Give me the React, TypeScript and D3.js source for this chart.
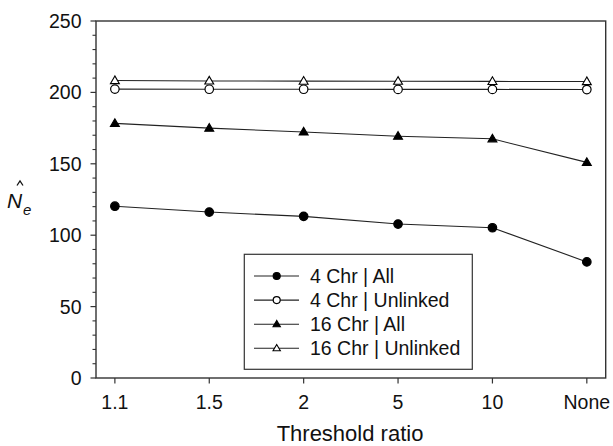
import React from "react";
import * as d3 from "d3";

const categories = ["1.1", "1.5", "2", "5", "10", "None"];
const chr4All = [120.3, 116.2, 113.2, 107.8, 105.2, 81.3];
const chr4Unlinked = [202.3, 202.2, 202.2, 202.1, 202.1, 202.0];
const chr16All = [178.3, 175.0, 172.3, 169.3, 167.5, 151.0];
const chr16Unlinked = [208.3, 208.0, 207.9, 207.8, 207.7, 207.6];
const yMajorTicks = [0, 50, 100, 150, 200, 250];
const seriesNames = ["4 Chr | All", "4 Chr | Unlinked", "16 Chr | All", "16 Chr | Unlinked"];

const W = 613, H = 446;
const L = 96, R = 605.7, T = 21, B = 378;
const font = "Liberation Sans, Arial, sans-serif";

type Marker = "circle" | "triangle";

function MarkerShape({ x, y, type, filled, size }: { x: number; y: number; type: Marker; filled: boolean; size: number }) {
  const fill = filled ? "#000" : "#fff";
  if (type === "circle") {
    return <circle cx={x} cy={y} r={size / 2} fill={fill} stroke="#000" strokeWidth={1.2} />;
  }
  const h = size * 0.9;
  const w = size * 1.05;
  const pts = `${x},${y - h * 0.6} ${x - w / 2},${y + h * 0.4} ${x + w / 2},${y + h * 0.4}`;
  return <polygon points={pts} fill={fill} stroke="#000" strokeWidth={1.1} strokeLinejoin="miter" />;
}

export default function App() {
  const x = d3.scalePoint<string>().domain(categories).range([L, R]).padding(0.2);
  const y = d3.scaleLinear().domain([0, 250]).range([B, T]);
  const minor = d3.range(0, 251, 10).filter((v) => v % 50 !== 0);

  const series = [
    { name: seriesNames[0], values: chr4All, type: "circle" as Marker, filled: true },
    { name: seriesNames[1], values: chr4Unlinked, type: "circle" as Marker, filled: false },
    { name: seriesNames[2], values: chr16All, type: "triangle" as Marker, filled: true },
    { name: seriesNames[3], values: chr16Unlinked, type: "triangle" as Marker, filled: false },
  ];

  const line = d3
    .line<number>()
    .x((_, i) => x(categories[i]) as number)
    .y((d) => y(d));

  const legX = 244.3, legY = 254.3, legW = 228, legH = 115;
  const rowY = (i: number) => 276 + i * 24.1;

  return (
    <svg width={W} height={H} style={{ display: "block", position: "absolute", left: 0, top: 0, background: "#fff" }} fontFamily={font}>
      <rect x={0} y={0} width={W} height={H} fill="#fff" />
      {/* frame */}
      <rect x={L} y={T} width={R - L} height={B - T} fill="none" stroke="#333" strokeWidth={1.4} />
      {/* y ticks */}
      {yMajorTicks.map((v) => (
        <g key={"ym" + v}>
          <line x1={L - 5.5} x2={L} y1={y(v)} y2={y(v)} stroke="#333" strokeWidth={1.2} />
          <text x={L - 14.5} y={y(v)} dy="0.36em" textAnchor="end" fontSize={19.5} fill="#111">
            {v}
          </text>
        </g>
      ))}
      {minor.map((v) => (
        <line key={"yn" + v} x1={L - 3.5} x2={L} y1={y(v)} y2={y(v)} stroke="#333" strokeWidth={1.1} />
      ))}
      {/* x ticks */}
      {categories.map((c) => (
        <g key={"x" + c}>
          <line x1={x(c)} x2={x(c)} y1={B} y2={B + 5.5} stroke="#333" strokeWidth={1.2} />
          <text x={x(c)} y={408.7} textAnchor="middle" fontSize={19.5} fill="#111">
            {c}
          </text>
        </g>
      ))}
      <text x={350} y={440.5} textAnchor="middle" fontSize={22} fill="#111">
        Threshold ratio
      </text>
      {/* y label */}
      <g fill="#111">
        <text x={7} y={208} fontSize={21} fontStyle="italic">N</text>
        <text x={23} y={215} fontSize={15} fontStyle="italic">e</text>
      </g>
      <path d="M17,185.5 L20,181 L23,185.5" fill="none" stroke="#111" strokeWidth={1.3} />
      {/* lines */}
      {series.map((s) => (
        <path key={"l" + s.name} d={line(s.values) || ""} fill="none" stroke="#222" strokeWidth={1.1} />
      ))}
      {series.map((s) =>
        s.values.map((v, i) => (
          <MarkerShape key={s.name + i} x={x(categories[i]) as number} y={y(v)} type={s.type} filled={s.filled} size={8.5} />
        ))
      )}
      {/* legend */}
      <rect x={legX} y={legY} width={legW} height={legH} fill="#fff" stroke="#333" strokeWidth={1.2} />
      {series.map((s, i) => (
        <g key={"lg" + s.name}>
          <line x1={254} x2={299} y1={rowY(i)} y2={rowY(i)} stroke="#222" strokeWidth={1.1} />
          <MarkerShape x={276.7} y={rowY(i)} type={s.type} filled={s.filled} size={7} />
          <text x={310} y={rowY(i)} dy="0.36em" fontSize={19.5} fill="#111">
            {s.name}
          </text>
        </g>
      ))}
    </svg>
  );
}
